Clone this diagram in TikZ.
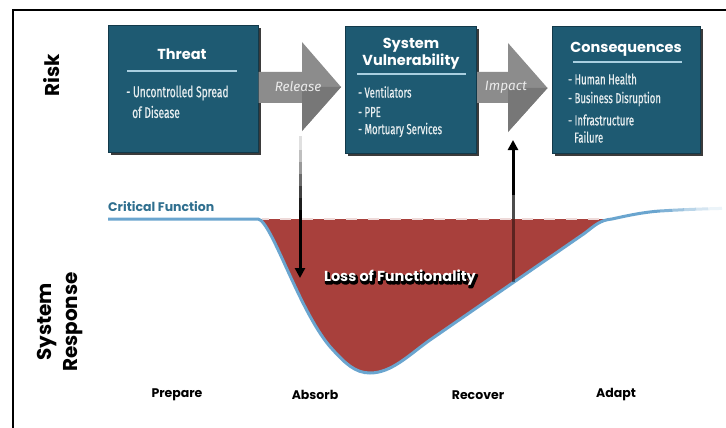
\documentclass[tikz,border=0pt]{standalone}
\usepackage{fontspec}
\setmainfont{Fira Sans}
\newfontfamily\headfont{Poppins}
\newfontfamily\condfont[FakeStretch=0.66,FakeBold=0.6]{Fira Sans}
\usetikzlibrary{calc,arrows.meta,shadows}
\definecolor{boxfill}{HTML}{1E5A72}
\definecolor{boxline}{HTML}{12394A}
\definecolor{uline}{HTML}{A9CFE0}
\definecolor{itemc}{HTML}{E8EEF0}
\definecolor{garrowc}{HTML}{8C8C8C}
\definecolor{garrowd}{HTML}{777777}
\definecolor{lossred}{HTML}{A8403C}
\definecolor{curveblue}{HTML}{6AA5CF}
\definecolor{critc}{HTML}{2F6F8F}
\newcommand\strokedtext[1]{\special{pdf:literal direct 2 Tr 2.4 w 1 j 0 0 0 RG 0 0 0 rg}#1\special{pdf:literal direct 0 Tr}}
\begin{document}
\begin{tikzpicture}[x={(1pt,0)},y={(0,-1pt)},
  box/.style={draw=boxline,line width=1pt,fill=boxfill,inner sep=0pt,
    drop shadow={shadow xshift=2.5pt,shadow yshift=-2.5pt,fill=black!85,opacity=0.9}},
  boxtitle/.style={text=white,font=\headfont\bfseries\fontsize{14.5}{17.5}\selectfont,inner sep=0pt,align=center},
  boxrule/.style={draw=uline,line width=1.6pt},
  item/.style={text=itemc,font=\condfont\fontsize{14.5}{16}\selectfont,inner sep=0pt,anchor=west},
  bigitem/.style={item,font=\condfont\fontsize{15.5}{17}\selectfont},
  garrow/.style={fill=garrowc},
  garrowshade/.style={fill=garrowd},
  arrlabel/.style={text=white!92!black,font=\itshape\fontsize{13.5}{15}\selectfont,inner sep=0pt},
  sidelabel/.style={font=\headfont\bfseries\fontsize{20}{26}\selectfont,rotate=90,align=center,inner sep=0pt},
  phase/.style={font=\headfont\bfseries\fontsize{12.5}{14}\selectfont,inner sep=0pt},
  losstext/.style={font=\headfont\bfseries\fontsize{14.5}{16}\selectfont,inner sep=0pt},
  bluecurve/.style={draw=curveblue,line width=3pt},
]
\useasboundingbox (0,0) rectangle (726,428);
\fill[white] (0,0) rectangle (726,428);
% frame
\draw[line width=1.3pt] (13,428) -- (13,10) -- (726,10);

% side labels
\node[sidelabel] (risk) at (52,75) {Risk};
\node[sidelabel] (sysresp) at (60,322) {System\\Response};

% boxes
\node[box,minimum width=150pt,minimum height=127pt] (threat) at (183,89) {};
\node[box,minimum width=131pt,minimum height=126pt] (vuln) at (411,90) {};
\node[box,minimum width=148pt,minimum height=126pt] (cons) at (626,90) {};

% threat content
\node[boxtitle] (threatT) at (182,54) {Threat};
\draw[boxrule] (127,71) -- (237,71);
\node[bigitem] (t1) at (126,93) {- Uncontrolled Spread};
\node[bigitem] (t2) at (132,112) {of Disease};

% vulnerability content
\node[boxtitle] (vulnT) at (411,54) {System\\Vulnerability};
\draw[boxrule] (357,74) -- (466,74);
\node[item] (v1) at (358,92) {- Ventilators};
\node[item] (v2) at (358,112) {- PPE};
\node[item] (v3) at (358,130) {- Mortuary Services};

% consequences content
\node[boxtitle] (consT) at (626,49) {Consequences};
\draw[boxrule] (573,62) -- (682,62);
\node[item] (c1) at (568,79) {- Human Health};
\node[item] (c2) at (568,99) {- Business Disruption};
\node[item] (c3) at (568,120) {- Infrastructure};
\node[item] (c4) at (574,137) {Failure};

% gray arrows (Release, Impact)
\fill[garrow] (threat.east |- 0,72) -- (302,72) -- (302,42) -- ($(vuln.west |- 0,87)+(-4,0)$)
  -- (302,131) -- (302,103) -- (threat.east |- 0,103) -- cycle;
\fill[garrowshade] (302,87) -- ($(vuln.west |- 0,87)+(-4,0)$) -- (302,131) -- cycle;
\node[arrlabel] (rel) at (298,87) {Release};
\fill[garrow] (vuln.east |- 0,72) -- (508,72) -- (508,43) -- ($(cons.west |- 0,88)+(-4,0)$)
  -- (508,132) -- (508,103) -- (vuln.east |- 0,103) -- cycle;
\fill[garrowshade] (508,88) -- ($(cons.west |- 0,88)+(-4,0)$) -- (508,132) -- cycle;
\node[arrlabel] (imp) at (506,87) {Impact};

% loss region
\fill[lossred] (258,219) .. controls (272,221) and (300,315) .. (333,350)
  .. controls (345,363) and (355,373) .. (370,373)
  .. controls (392,373) and (410,354) .. (430,340) -- (585,233)
  .. controls (594,226) and (600,220) .. (612,219) -- cycle;
\draw[white!80!lossred,line width=2pt,dash pattern=on 11pt off 11pt,dash phase=4pt] (262,219) -- (608,219);

% system response curve
\draw[bluecurve] (108,219) -- (258,219) .. controls (272,221) and (300,315) .. (333,350)
  .. controls (345,363) and (355,373) .. (370,373)
  .. controls (392,373) and (410,354) .. (430,340) -- (585,233)
  .. controls (594,226) and (600,220) .. (612,219)
  .. controls (630,215) and (645,212) .. (660,211);
\foreach \xa/\ya/\xb/\yb/\op in {660/211/672/210.3/0.85,672/210.3/684/209.7/0.65,684/209.7/696/209.2/0.45,696/209.2/708/208.8/0.28,708/208.8/722/208.4/0.12}
  \draw[curveblue,line width=3pt,opacity=\op] (\xa,\ya) -- (\xb,\yb);
\node[font=\headfont\bfseries\fontsize{12.5}{14}\selectfont,text=critc,inner sep=0pt,anchor=west] (crit) at (108,207) {Critical Function};

% down arrow (Release -> loss)
\coordinate (dS) at (300,136);
\coordinate (dE) at (300,278);
\foreach \ya/\yb/\g in {136/150/12,150/162/25,162/174/40,174/186/58,186/198/75,198/210/88}
  \draw[black!\g,line width=3pt] (300,\ya) -- (300,\yb);
\draw[black,line width=3pt,-{Triangle[width=10pt,length=10pt]}] (300,210) -- (dE);

% up arrow (loss -> Impact)
\coordinate (uS) at (513,282);
\coordinate (uE) at (513,140);
\draw[black,opacity=0.45,line width=3pt] (uS) -- (513,219);
\draw[black!70,line width=3pt] (513,219) -- (513,195);
\draw[black,line width=3pt,-{Triangle[width=10pt,length=10pt]}] (513,195) -- (uE);

% loss text with outline and shadow
\node[losstext,text=black] (lossshadow) at (401.2,279.5) {\strokedtext{Loss of Functionality}};
\node[losstext,text=white] (loss) at (400,278) {Loss of Functionality};

% phases
\node[phase] (prep) at (177,395) {Prepare};
\node[phase] (abs) at (315,395) {Absorb};
\node[phase] (rec) at (478,395) {Recover};
\node[phase] (adp) at (616,395) {Adapt};
\end{tikzpicture}
\end{document}
